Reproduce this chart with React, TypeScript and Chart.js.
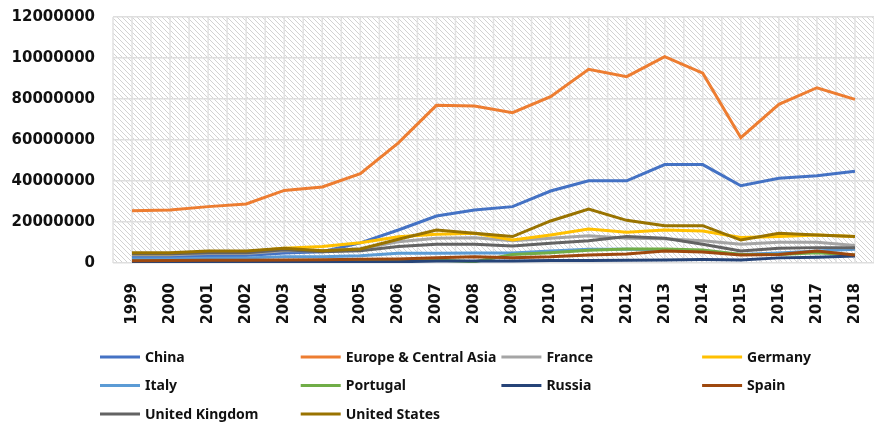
import React, { useEffect, useRef } from "react";
import { Chart, registerables } from "chart.js";

Chart.register(...registerables);

const years = ["1999","2000","2001","2002","2003","2004","2005","2006","2007","2008","2009","2010","2011","2012","2013","2014","2015","2016","2017","2018"];

const seriesNames = ["China","Europe & Central Asia","France","Germany","Italy","Portugal","Russia","Spain","United Kingdom","United States"];
const seriesColors = ["#4472C4","#ED7D31","#A5A5A5","#FFC000","#5B9BD5","#70AD47","#264478","#9E480E","#636363","#997300"];

const china = [3000000,3100000,3300000,3600000,4900000,5500000,9800000,16100000,22900000,25900000,27500000,35100000,40100000,40100000,48000000,48000000,37700000,41300000,42600000,44700000];
const europeCentralAsia = [25500000,25800000,27500000,28800000,35400000,37100000,43600000,58600000,76900000,76600000,73300000,81100000,94500000,90900000,100700000,92600000,61100000,77400000,85500000,79800000];
const france = [4000000,4000000,4600000,4600000,6000000,6000000,7000000,10400000,12100000,12300000,10800000,12100000,13300000,12100000,11800000,10800000,9100000,10100000,10100000,8500000];
const germany = [4500000,4500000,5500000,5500000,7200000,8000000,9900000,12800000,14000000,14500000,11200000,13700000,16600000,15000000,16100000,15600000,12400000,12900000,13700000,12900000];
const italy = [2000000,2000000,2300000,2500000,3100000,3000000,3500000,4700000,4700000,4900000,4900000,5900000,6700000,6700000,6500000,5900000,4200000,4900000,5900000,6700000];
const portugal = [800000,800000,900000,1000000,1100000,1200000,1200000,1400000,1500000,600000,4200000,5000000,6200000,6800000,6800000,6300000,4200000,4200000,5000000,3900000];
const russia = [300000,300000,300000,400000,400000,500000,500000,600000,1000000,1000000,1000000,1200000,1200000,1300000,1500000,1700000,1500000,2500000,2800000,3400000];
const spain = [1100000,1200000,1300000,1400000,1500000,1600000,1800000,2000000,2600000,3000000,2600000,3000000,3900000,4400000,5900000,5400000,3900000,4200000,5900000,3900000];
const unitedKingdom = [4500000,4500000,5000000,5000000,6500000,5500000,6000000,8000000,9100000,9100000,8300000,9600000,10800000,12900000,12100000,9100000,5900000,7200000,7500000,7500000];
const unitedStates = [5000000,5000000,5900000,5900000,7200000,6000000,6800000,11600000,16100000,14500000,12900000,20500000,26300000,20800000,18200000,18200000,11200000,14500000,13700000,12900000];

const seriesValues = [china, europeCentralAsia, france, germany, italy, portugal, russia, spain, unitedKingdom, unitedStates];

const yTickLabels = ["0","20000000","40000000","60000000","80000000","10000000","12000000"];

const TICK_FONT = { family: '"DejaVu Sans", sans-serif', size: 15, weight: "bold" as const };

const backgroundPlugin = {
  id: "hatchBackground",
  beforeDraw(chart: any) {
    const { ctx, chartArea } = chart;
    if (!chartArea) return;
    const { left, top, right, bottom } = chartArea;
    const pc = document.createElement("canvas");
    pc.width = 5;
    pc.height = 5;
    const p = pc.getContext("2d")!;
    p.strokeStyle = "#d2d2d2";
    p.lineWidth = 1;
    p.beginPath();
    p.moveTo(-1, -1);
    p.lineTo(6, 6);
    p.moveTo(-1, 4);
    p.lineTo(2, 7);
    p.moveTo(4, -1);
    p.lineTo(7, 2);
    p.stroke();
    const pattern = ctx.createPattern(pc, "repeat");
    ctx.save();
    ctx.fillStyle = "#ffffff";
    ctx.fillRect(left, top, right - left, bottom - top);
    ctx.fillStyle = pattern;
    ctx.fillRect(left, top, right - left, bottom - top);
    const xs = chart.scales.x;
    const n = chart.data.labels.length;
    const step = n > 1 ? xs.getPixelForValue(1) - xs.getPixelForValue(0) : 0;
    ctx.strokeStyle = "#e2e2e2";
    ctx.lineWidth = 1.5;
    for (let i = 0; i < n; i++) {
      const c = xs.getPixelForValue(i);
      const positions = [c - step / 2, c];
      if (i === n - 1) positions.push(c + step / 2);
      for (const x of positions) {
        ctx.beginPath();
        ctx.moveTo(x, top);
        ctx.lineTo(x, bottom);
        ctx.stroke();
      }
    }
    ctx.restore();
  },
};

const legendPlugin = {
  id: "gridLegend",
  afterDraw(chart: any) {
    const ctx = chart.ctx;
    ctx.save();
    chart.data.datasets.forEach((ds: any, i: number) => {
      const col = i % 4;
      const row = Math.floor(i / 4);
      const x = 100 + col * 200.7;
      const y = 357 + row * 28.5;
      ctx.strokeStyle = ds.borderColor;
      ctx.lineWidth = 3;
      ctx.beginPath();
      ctx.moveTo(x, y);
      ctx.lineTo(x + 40, y);
      ctx.stroke();
      ctx.fillStyle = "#111111";
      ctx.font = 'bold 14px "Noto Sans", sans-serif';
      ctx.textBaseline = "middle";
      ctx.textAlign = "left";
      ctx.fillText(ds.label, x + 45, y + 1);
    });
    ctx.restore();
  },
};

export default function App() {
  const canvasRef = useRef<HTMLCanvasElement | null>(null);

  useEffect(() => {
    if (!canvasRef.current) return;
    const n = seriesNames.length;
    const chart = new Chart(canvasRef.current, {
      type: "line",
      data: {
        labels: years,
        datasets: seriesNames.map((name, i) => ({
          label: name,
          data: seriesValues[i],
          borderColor: seriesColors[i],
          backgroundColor: seriesColors[i],
          borderWidth: 3,
          pointRadius: 0,
          pointHoverRadius: 0,
          tension: 0,
          fill: false,
          order: n - i,
        })),
      },
      options: {
        animation: false,
        responsive: false,
        devicePixelRatio: 1,
        layout: { padding: { left: 12, top: 17, right: 0, bottom: 101 } },
        plugins: {
          legend: { display: false },
          tooltip: { enabled: false },
        },
        scales: {
          x: {
            type: "category",
            offset: true,
            grid: { display: false, drawTicks: false },
            border: { display: false },
            ticks: {
              minRotation: 90,
              maxRotation: 90,
              autoSkip: false,
              padding: 20,
              color: "#111111",
              font: TICK_FONT,
            },
            afterFit: (scale: any) => {
              scale.height = 60;
              scale.paddingLeft = 0;
              scale.paddingRight = 0;
            },
          },
          y: {
            min: 0,
            max: 120000000,
            grid: { color: "#dedede", lineWidth: 1.5, drawTicks: false },
            border: { display: false },
            ticks: {
              stepSize: 20000000,
              padding: 18,
              color: "#111111",
              font: TICK_FONT,
              callback: (_v: any, idx: number) => yTickLabels[idx],
            },
            afterFit: (scale: any) => {
              scale.width = 101;
              scale.paddingTop = 0;
              scale.paddingBottom = 0;
            },
          },
        },
      },
      plugins: [backgroundPlugin, legendPlugin],
    });
    return () => chart.destroy();
  }, []);

  return (
    <div style={{ position: "absolute", left: 0, top: 0, width: 874, height: 424, background: "#ffffff" }}>
      <canvas ref={canvasRef} width={874} height={424} />
    </div>
  );
}
